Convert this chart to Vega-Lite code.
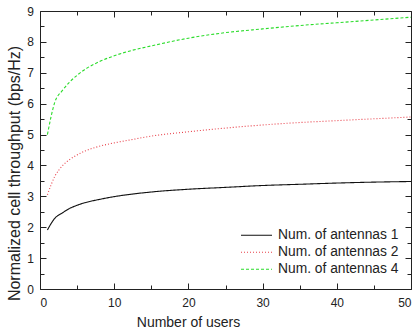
{
  "$schema": "https://vega.github.io/schema/vega-lite/v6.json",
  "width": 371,
  "height": 278,
  "autosize": "none",
  "padding": {"left": 40, "top": 11, "right": 7, "bottom": 40},
  "background": "white",
  "config": {
    "view": {"stroke": "#222", "strokeWidth": 1},
    "font": "Liberation Sans",
    "axis": {"grid": false, "domain": false, "labelFont": "Liberation Sans", "titleFont": "Liberation Sans", "labelColor": "#222", "titleColor": "#222", "titleFontWeight": "normal", "tickColor": "#222", "tickWidth": 1}
  },
  "data": {"values": [
    {"u": 1, "s": "Num. of antennas 1", "v": 1.91},
    {"u": 2, "s": "Num. of antennas 1", "v": 2.29},
    {"u": 3, "s": "Num. of antennas 1", "v": 2.46},
    {"u": 4, "s": "Num. of antennas 1", "v": 2.61},
    {"u": 5, "s": "Num. of antennas 1", "v": 2.71},
    {"u": 6, "s": "Num. of antennas 1", "v": 2.79},
    {"u": 8, "s": "Num. of antennas 1", "v": 2.9},
    {"u": 10, "s": "Num. of antennas 1", "v": 2.99},
    {"u": 12, "s": "Num. of antennas 1", "v": 3.06},
    {"u": 15, "s": "Num. of antennas 1", "v": 3.14},
    {"u": 20, "s": "Num. of antennas 1", "v": 3.23},
    {"u": 25, "s": "Num. of antennas 1", "v": 3.29},
    {"u": 30, "s": "Num. of antennas 1", "v": 3.35},
    {"u": 35, "s": "Num. of antennas 1", "v": 3.39},
    {"u": 40, "s": "Num. of antennas 1", "v": 3.43},
    {"u": 45, "s": "Num. of antennas 1", "v": 3.46},
    {"u": 50, "s": "Num. of antennas 1", "v": 3.48},
    {"u": 1, "s": "Num. of antennas 2", "v": 3.05},
    {"u": 2, "s": "Num. of antennas 2", "v": 3.65},
    {"u": 3, "s": "Num. of antennas 2", "v": 3.98},
    {"u": 4, "s": "Num. of antennas 2", "v": 4.19},
    {"u": 5, "s": "Num. of antennas 2", "v": 4.34},
    {"u": 6, "s": "Num. of antennas 2", "v": 4.46},
    {"u": 8, "s": "Num. of antennas 2", "v": 4.62},
    {"u": 10, "s": "Num. of antennas 2", "v": 4.73},
    {"u": 12, "s": "Num. of antennas 2", "v": 4.82},
    {"u": 15, "s": "Num. of antennas 2", "v": 4.95},
    {"u": 20, "s": "Num. of antennas 2", "v": 5.09},
    {"u": 25, "s": "Num. of antennas 2", "v": 5.21},
    {"u": 30, "s": "Num. of antennas 2", "v": 5.31},
    {"u": 35, "s": "Num. of antennas 2", "v": 5.39},
    {"u": 40, "s": "Num. of antennas 2", "v": 5.45},
    {"u": 45, "s": "Num. of antennas 2", "v": 5.51},
    {"u": 50, "s": "Num. of antennas 2", "v": 5.57},
    {"u": 1, "s": "Num. of antennas 4", "v": 5.0},
    {"u": 2, "s": "Num. of antennas 4", "v": 6.05},
    {"u": 3, "s": "Num. of antennas 4", "v": 6.42},
    {"u": 4, "s": "Num. of antennas 4", "v": 6.7},
    {"u": 5, "s": "Num. of antennas 4", "v": 6.92},
    {"u": 6, "s": "Num. of antennas 4", "v": 7.1},
    {"u": 8, "s": "Num. of antennas 4", "v": 7.36},
    {"u": 10, "s": "Num. of antennas 4", "v": 7.55},
    {"u": 12, "s": "Num. of antennas 4", "v": 7.7},
    {"u": 15, "s": "Num. of antennas 4", "v": 7.87},
    {"u": 20, "s": "Num. of antennas 4", "v": 8.12},
    {"u": 25, "s": "Num. of antennas 4", "v": 8.3},
    {"u": 30, "s": "Num. of antennas 4", "v": 8.42},
    {"u": 35, "s": "Num. of antennas 4", "v": 8.53},
    {"u": 40, "s": "Num. of antennas 4", "v": 8.62},
    {"u": 45, "s": "Num. of antennas 4", "v": 8.71},
    {"u": 50, "s": "Num. of antennas 4", "v": 8.8}
  ]},
  "resolve": {"axis": {"x": "independent", "y": "independent"}},
  "layer": [
    {
      "mark": {"type": "line", "interpolate": "monotone", "strokeWidth": 1.1},
      "encoding": {
        "x": {"field": "u", "type": "quantitative", "scale": {"domain": [0, 50], "nice": false},
          "axis": {"title": "Number of users", "titleFontSize": 14, "titleX": 148, "titleY": 33, "titleBaseline": "middle", "titleAnchor": null, "labelFontSize": 12, "values": [0,5,10,15,20,25,30,35,40,45,50], "labelExpr": "datum.value % 10 === 0 ? datum.label : ''", "tickSize": {"condition": {"test": "datum.value % 10 === 0", "value": -6}, "value": -4}, "labelPadding": 14}},
        "y": {"field": "v", "type": "quantitative", "scale": {"domain": [0, 9], "nice": false},
          "axis": {"title": "Normalized cell throughput (bps/Hz)", "titleFontSize": 16, "titleX": -26, "titleY": 162, "titleAngle": -90, "titleAlign": "center", "titleBaseline": "middle", "titleAnchor": null, "labelFontSize": 12, "values": [0,0.5,1,1.5,2,2.5,3,3.5,4,4.5,5,5.5,6,6.5,7,7.5,8,8.5,9], "labelExpr": "datum.value % 1 === 0 ? format(datum.value, 'd') : ''", "tickSize": {"condition": {"test": "datum.value % 1 === 0", "value": -6}, "value": -4}, "labelPadding": 12.5}},
        "color": {"field": "s", "type": "nominal", "scale": {"range": ["#111111", "#e8404a", "#2bdc2b"]},
          "legend": {"title": null, "orient": "none", "legendX": 200, "legendY": 217, "symbolType": "stroke", "symbolSize": 961, "symbolStrokeWidth": 1.2, "labelFontSize": 13.8, "labelFont": "Liberation Sans", "labelColor": "#222", "clipHeight": 14.5, "rowPadding": 2, "labelOffset": 5}},
        "strokeDash": {"field": "s", "type": "nominal", "scale": {"range": [[1, 0], [1, 2], [3, 2]]}, "legend": null}
      }
    },
    {
      "mark": {"type": "line", "opacity": 0},
      "encoding": {
        "x": {"field": "u", "type": "quantitative",
          "axis": {"orient": "top", "title": null, "labels": false, "values": [0,5,10,15,20,25,30,35,40,45,50], "tickSize": {"condition": {"test": "datum.value % 10 === 0", "value": -6}, "value": -4}}},
        "y": {"field": "v", "type": "quantitative",
          "axis": {"orient": "right", "title": null, "labels": false, "values": [0,0.5,1,1.5,2,2.5,3,3.5,4,4.5,5,5.5,6,6.5,7,7.5,8,8.5,9], "tickSize": {"condition": {"test": "datum.value % 1 === 0", "value": -6}, "value": -4}}},
        "detail": {"field": "s"}
      }
    }
  ]
}
